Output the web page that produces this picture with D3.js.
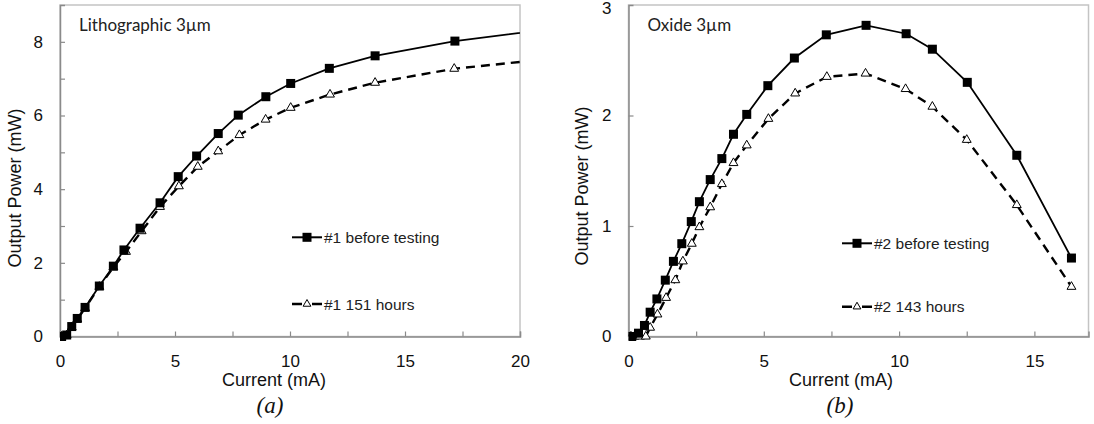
<!DOCTYPE html>
<html>
<head>
<meta charset="utf-8">
<script src="https://cdn.jsdelivr.net/npm/d3@7"></script>
<style>
  html, body { margin: 0; padding: 0; background: #fff; }
  svg { display: block; }
</style>
</head>
<body>
<svg id="chart" width="1094" height="424"></svg>
<script>
// ---- (a) Lithographic 3 µm device ----
const currentA1 = [0.07, 0.29, 0.51, 0.75, 1.09, 1.71, 2.32, 2.78, 3.48, 4.35, 5.14, 5.94, 6.88, 7.75, 8.95, 10.03, 11.71, 13.70, 17.17, 21.5];
const powerA1   = [0.00, 0.04, 0.27, 0.49, 0.79, 1.37, 1.91, 2.35, 2.94, 3.63, 4.34, 4.90, 5.51, 6.01, 6.51, 6.87, 7.28, 7.62, 8.02, 8.36];
const currentA2 = [0.07, 0.29, 0.51, 0.75, 1.09, 1.71, 2.32, 2.87, 3.55, 4.35, 5.17, 5.99, 6.88, 7.80, 8.94, 10.03, 11.74, 13.70, 17.14, 21.5];
const powerA2   = [0.00, 0.03, 0.25, 0.47, 0.77, 1.35, 1.88, 2.30, 2.86, 3.52, 4.08, 4.61, 5.03, 5.47, 5.89, 6.21, 6.57, 6.89, 7.27, 7.55];
// ---- (b) Oxide 3 µm device ----
const currentB1 = [0.12, 0.37, 0.59, 0.80, 1.05, 1.36, 1.66, 1.97, 2.32, 2.62, 3.02, 3.45, 3.88, 4.37, 5.15, 6.13, 7.31, 8.78, 10.26, 11.23, 12.52, 14.35, 16.37];
const powerB1   = [0.00, 0.03, 0.10, 0.22, 0.34, 0.51, 0.68, 0.84, 1.04, 1.22, 1.42, 1.61, 1.83, 2.01, 2.27, 2.52, 2.73, 2.816, 2.74, 2.60, 2.30, 1.64, 0.71];
const currentB2 = [0.09, 0.22, 0.43, 0.64, 0.80, 1.07, 1.39, 1.73, 2.01, 2.34, 2.62, 3.02, 3.45, 3.88, 4.37, 5.17, 6.16, 7.33, 8.76, 10.24, 11.23, 12.50, 14.35, 16.37];
const powerB2   = [0.00, 0.00, 0.00, 0.00, 0.08, 0.20, 0.35, 0.51, 0.68, 0.84, 0.99, 1.17, 1.38, 1.57, 1.73, 1.97, 2.20, 2.35, 2.38, 2.24, 2.08, 1.78, 1.19, 0.45];

// ---- axis ticks ----
const xTicksA = [0, 5, 10, 15, 20];
const yTicksA = [0, 2, 4, 6, 8];
const xMinorA = [0, 2.5, 5, 7.5, 10, 12.5, 15, 17.5, 20];
const yMinorA = [1, 2, 3, 4, 5, 6, 7, 8];
const xTicksB = [0, 5, 10, 15];
const yTicksB = [0, 1, 2, 3];
const xMinorB = [0, 2.5, 5, 7.5, 10, 12.5, 15];
const yMinorB = [1, 2];

// ---- text ----
const titleA = "Lithographic 3\u00b5m";
const titleB = "Oxide 3\u00b5m";
const legendA = ["#1 before testing", "#1 151 hours"];
const legendB = ["#2 before testing", "#2 143 hours"];
const xLabel = "Current (mA)";
const yLabel = "Output Power (mW)";
const panelTags = ["(a)", "(b)"];

const zip = (xs, ys) => xs.map((x, i) => ({ x, y: ys[i] }));

const svg = d3.select("#chart");
const AXIS = "#8a8a8a", FRAME = "#c4c4c4";
const SANS = "'Liberation Sans', Arial, sans-serif";

function panel(o) {
  const g = svg.append("g");
  const x = d3.scaleLinear().domain(o.xDomain).range([o.left, o.right]);
  const y = d3.scaleLinear().domain(o.yDomain).range([o.bottom, o.top]);

  // frame (top / right)
  g.append("rect")
    .attr("x", o.left).attr("y", o.top)
    .attr("width", o.right - o.left).attr("height", o.bottom - o.top)
    .attr("fill", "none").attr("stroke", FRAME).attr("stroke-width", 1.5);

  // minor tick marks, pointing inward
  g.append("g").attr("transform", `translate(0,${o.bottom})`)
    .call(d3.axisBottom(x).tickValues(o.xMinor).tickSize(-5).tickFormat(""))
    .call(a => a.select(".domain").attr("stroke", AXIS).attr("stroke-width", 1.5))
    .call(a => a.selectAll(".tick line").attr("stroke", AXIS).attr("stroke-width", 1.2));
  g.append("g").attr("transform", `translate(${o.left},0)`)
    .call(d3.axisLeft(y).tickValues(o.yMinor).tickSize(-5).tickFormat(""))
    .call(a => a.select(".domain").attr("stroke", AXIS).attr("stroke-width", 1.5))
    .call(a => a.selectAll(".tick line").attr("stroke", AXIS).attr("stroke-width", 1.2));

  // tick labels
  g.append("g").attr("transform", `translate(0,${o.bottom})`)
    .call(d3.axisBottom(x).tickValues(o.xTicks).tickSize(0).tickPadding(18).tickFormat(d3.format("d")))
    .call(a => a.select(".domain").remove())
    .call(a => a.selectAll("text").attr("font-family", SANS).attr("font-size", 17).attr("fill", "#111"));
  g.append("g").attr("transform", `translate(${o.left},0)`)
    .call(d3.axisLeft(y).tickValues(o.yTicks).tickSize(0).tickPadding(17).tickFormat(d3.format("d")))
    .call(a => a.select(".domain").remove())
    .call(a => a.selectAll("text").attr("font-family", SANS).attr("font-size", 17).attr("fill", "#111"))
    // keep a label sitting on the very top edge inside the page
    .call(a => a.selectAll("text").filter(d => y(d) < 10).attr("dy", "0.5em"));

  // axis titles
  g.append("text").attr("x", o.xLabelX).attr("y", 386)
    .attr("text-anchor", "middle").attr("font-family", SANS).attr("font-size", 18).attr("fill", "#111")
    .text(xLabel);
  g.append("text").attr("transform", `translate(${o.yLabelX},${o.yLabelY}) rotate(-90)`)
    .attr("text-anchor", "middle").attr("font-family", SANS).attr("font-size", 18).attr("fill", "#111")
    .text(yLabel);

  // panel caption
  g.append("text").attr("x", o.tagX).attr("y", 413)
    .attr("text-anchor", "middle").attr("font-family", "'Liberation Serif', 'Times New Roman', serif")
    .attr("font-style", "italic").attr("font-size", 23).attr("fill", "#111")
    .text(o.tag);

  // panel title
  g.append("text").attr("x", o.left + 19).attr("y", 31)
    .attr("font-family", "Lato, 'Open Sans', sans-serif").attr("font-size", 17).attr("fill", "#222")
    .text(o.title);

  // data, clipped to the plot area
  const clipId = "clip-" + o.id;
  svg.append("clipPath").attr("id", clipId).append("rect")
    .attr("x", o.left).attr("y", o.top - 8)
    .attr("width", o.right - o.left).attr("height", o.bottom - o.top + 16);
  const data = g.append("g").attr("clip-path", `url(#${clipId})`);
  const line = d3.line().x(d => x(d.x)).y(d => y(d.y));

  data.append("path").datum(o.s2).attr("d", line)
    .attr("fill", "none").attr("stroke", "#000").attr("stroke-width", 2.4)
    .attr("stroke-dasharray", "9,6");
  data.append("path").datum(o.s1).attr("d", line)
    .attr("fill", "none").attr("stroke", "#000").attr("stroke-width", 1.8);

  const tri = d3.symbol().type(d3.symbolTriangle).size(34);
  data.selectAll(".tri").data(o.s2).join("path").attr("class", "tri")
    .attr("transform", d => `translate(${x(d.x)},${y(d.y)})`)
    .attr("d", tri).attr("fill", "#fff").attr("stroke", "#000").attr("stroke-width", 1);
  data.selectAll(".sq").data(o.s1).join("rect").attr("class", "sq")
    .attr("x", d => x(d.x) - 4.5).attr("y", d => y(d.y) - 4.5)
    .attr("width", 9).attr("height", 9).attr("fill", "#000");

  // legend
  const lg = g.append("g");
  o.legend.forEach((label, i) => {
    const ly = o.legendY[i], lx = o.legendX;
    if (i === 0) {
      lg.append("line").attr("x1", lx).attr("x2", lx + 30).attr("y1", ly).attr("y2", ly)
        .attr("stroke", "#000").attr("stroke-width", 2);
      lg.append("rect").attr("x", lx + 15 - 4.5).attr("y", ly - 4.5).attr("width", 9).attr("height", 9).attr("fill", "#000");
    } else {
      lg.append("line").attr("x1", lx).attr("x2", lx + 30).attr("y1", ly).attr("y2", ly)
        .attr("stroke", "#000").attr("stroke-width", 2.4).attr("stroke-dasharray", "10,10");
      lg.append("path").attr("transform", `translate(${lx + 15},${ly})`)
        .attr("d", d3.symbol().type(d3.symbolTriangle).size(26))
        .attr("fill", "#fff").attr("stroke", "#000").attr("stroke-width", 1);
    }
    lg.append("text").attr("x", lx + 32).attr("y", ly + 5.5)
      .attr("font-family", SANS).attr("font-size", 15.5).attr("fill", "#222")
      .text(label);
  });
}

panel({
  id: "a", left: 60, right: 520, top: 5, bottom: 336.5,
  xDomain: [0, 20], yDomain: [0, 9],
  xTicks: xTicksA, yTicks: yTicksA, xMinor: xMinorA, yMinor: yMinorA,
  s1: zip(currentA1, powerA1), s2: zip(currentA2, powerA2),
  title: titleA, legend: legendA, legendX: 292, legendY: [237.3, 304],
  xLabelX: 274, yLabelX: 21, yLabelY: 188, tagX: 270, tag: panelTags[0]
});

panel({
  id: "b", left: 628.5, right: 1088.5, top: 5, bottom: 336.5,
  xDomain: [0, 17], yDomain: [0, 3],
  xTicks: xTicksB, yTicks: yTicksB, xMinor: xMinorB, yMinor: yMinorB,
  s1: zip(currentB1, powerB1), s2: zip(currentB2, powerB2),
  title: titleB, legend: legendB, legendX: 842, legendY: [243.3, 306.7],
  xLabelX: 841, yLabelX: 588, yLabelY: 186, tagX: 840, tag: panelTags[1]
});
</script>
</body>
</html>
